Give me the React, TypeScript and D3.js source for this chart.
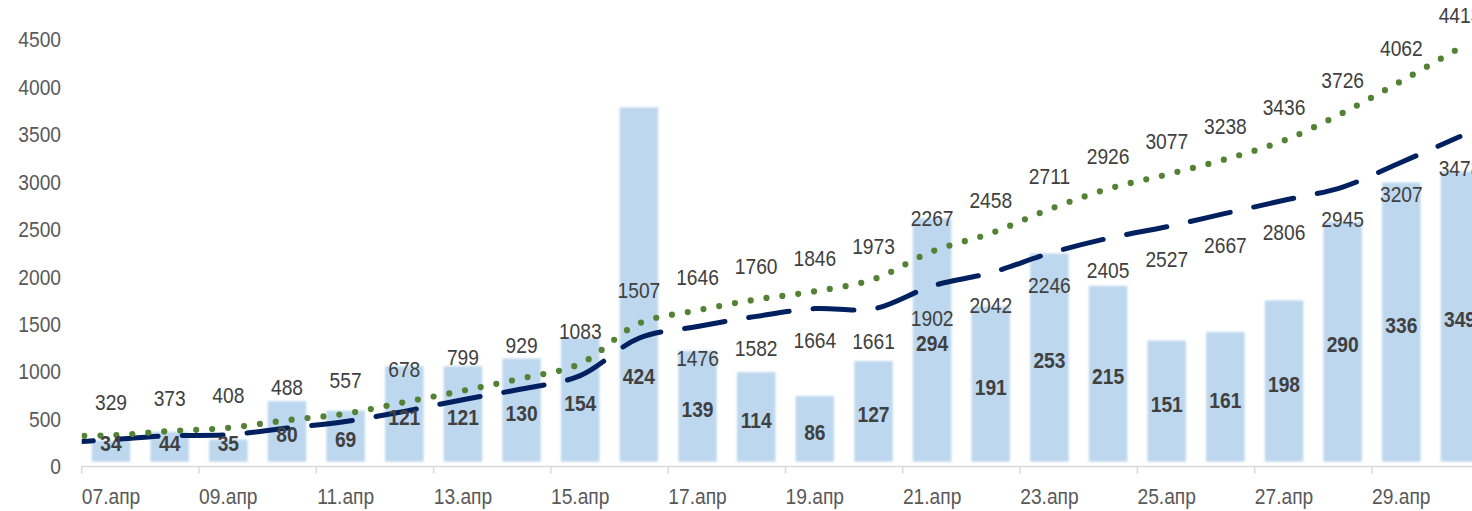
import React from "react";
import * as d3 from "d3";

// Daily series, 07.апр – 30.апр
const dates = [
  "07.апр", "08.апр", "09.апр", "10.апр", "11.апр", "12.апр", "13.апр", "14.апр",
  "15.апр", "16.апр", "17.апр", "18.апр", "19.апр", "20.апр", "21.апр", "22.апр",
  "23.апр", "24.апр", "25.апр", "26.апр", "27.апр", "28.апр", "29.апр", "30.апр",
];
const newCases = [
  34, 44, 35, 80, 69, 121, 121, 130, 154, 424, 139, 114, 86, 127, 294, 191,
  253, 215, 151, 161, 198, 290, 336, 349,
];
const totalCases = [
  329, 373, 408, 488, 557, 678, 799, 929, 1083, 1507, 1646, 1760, 1846, 1973,
  2267, 2458, 2711, 2926, 3077, 3238, 3436, 3726, 4062, 4413,
];
const activeCases = [
  282, 324, 335, 405, 475, 581, 704, 817, 958, 1352, 1476, 1582, 1664, 1661,
  1902, 2042, 2246, 2405, 2527, 2667, 2806, 2945, 3207, 3478,
];
// values of the day before the first shown date (line runs in from the left edge)
const totalPrevDay = 322;
const activePrevDay = 246;
const activeLabelsFrom = "17.апр";

const yTicks = [0, 500, 1000, 1500, 2000, 2500, 3000, 3500, 4000, 4500];

const W = 1472;
const H = 511;
const FONT = "'Liberation Sans', Arial, sans-serif";
const STRETCH = 1.16;

type LabelProps = {
  x: number;
  y: number;
  text: string | number;
  bold?: boolean;
  fill?: string;
  anchor?: "start" | "middle" | "end";
};

function Label({ x, y, text, bold, fill = "#404040", anchor = "middle" }: LabelProps) {
  return (
    <text
      transform={`translate(${x},${y}) scale(1,${STRETCH})`}
      textAnchor={anchor}
      dy="0.35em"
      fontFamily={FONT}
      fontSize={19.2}
      fontWeight={bold ? 700 : 400}
      fill={fill}
    >
      {text}
    </text>
  );
}

export default function App() {
  const left = 81.7;
  const step = 58.65;
  const x = d3
    .scaleBand<string>()
    .domain(dates)
    .range([left, left + step * dates.length])
    .padding(0);
  const bw = x.bandwidth();
  const cx = (i: number) => (x(dates[i]) as number) + bw / 2;

  const y = d3.scaleLinear().domain([0, 4500]).range([466.5, 39.5]);
  const y2 = d3.scaleLinear().domain([0, 500]).range([466.5, 39.5]);

  const line = d3
    .line<[number, number]>()
    .x((d) => d[0])
    .y((d) => d[1])
    .curve(d3.curveCatmullRom.alpha(0.5));

  const totalPts: [number, number][] = [
    [cx(0) - bw, y(totalPrevDay)],
    ...totalCases.map((v, i) => [cx(i), y(v)] as [number, number]),
  ];
  const activePts: [number, number][] = [
    [cx(0) - bw, y(activePrevDay)],
    ...activeCases.map((v, i) => [cx(i), y(v)] as [number, number]),
  ];

  const barW = 38.5;
  const base = y2(0);
  const peak = newCases.indexOf(d3.max(newCases) as number);
  const activeFrom = dates.indexOf(activeLabelsFrom);

  const barLabelY = (i: number) => {
    const v = newCases[i];
    if (i === peak) return y(activeCases[i]) + 38; // keep the tallest bar's label under the line
    return Math.min((y2(v) + base) / 2 + 2, base - 23);
  };

  return (
    <>
      <style>{`body{margin:0}`}</style>
      <svg width={W} height={H} style={{ display: "block" }}>
        <defs>
          <filter id="soft" x="-10%" y="-10%" width="120%" height="120%">
            <feGaussianBlur stdDeviation="0.9" />
          </filter>
          <clipPath id="plot">
            <rect x={left} y={0} width={W - left + 40} height={H} />
          </clipPath>
        </defs>

        {/* y axis labels */}
        {yTicks.map((t) => (
          <Label key={t} x={61} y={y(t)} text={t} anchor="end" fill="#595959" />
        ))}

        {/* bars */}
        <g filter="url(#soft)">
          {newCases.map((v, i) => (
            <rect
              key={dates[i]}
              x={cx(i) - barW / 2}
              y={y2(v) + 3}
              width={barW}
              height={Math.max(0, base - 4.8 - (y2(v) + 3))}
              fill="#BDD7EE"
            />
          ))}
        </g>

        {/* x axis */}
        <line x1={left} x2={W} y1={base} y2={base} stroke="#D9D9D9" strokeWidth={1.5} />
        {dates.map((d, i) =>
          i % 2 === 0 ? (
            <line
              key={"t" + d}
              x1={x(d) as number}
              x2={x(d) as number}
              y1={base}
              y2={base + 7}
              stroke="#D9D9D9"
              strokeWidth={1.5}
            />
          ) : null
        )}
        {dates.map((d, i) =>
          i % 2 === 0 ? (
            <Label key={"l" + d} x={cx(i)} y={496.5} text={d} fill="#595959" />
          ) : null
        )}

        {/* lines */}
        <g clipPath="url(#plot)">
          <path
            d={line(activePts) || ""}
            fill="none"
            stroke="#002060"
            strokeWidth={5}
            strokeLinecap="round"
            strokeDasharray="41 24"
          />
          <path
            d={line(totalPts) || ""}
            fill="none"
            stroke="#548235"
            strokeWidth={6.2}
            strokeLinecap="round"
            strokeDasharray="0 16"
          />
        </g>

        {/* line labels */}
        {totalCases.map((v, i) => (
          <Label key={"tl" + i} x={cx(i)} y={y(v) - 33} text={v} />
        ))}
        {activeCases.map((v, i) =>
          i >= activeFrom ? <Label key={"al" + i} x={cx(i)} y={y(v) + 32} text={v} /> : null
        )}

        {/* bar labels */}
        {newCases.map((v, i) => (
          <Label key={"bl" + i} x={cx(i)} y={barLabelY(i)} text={v} bold />
        ))}
      </svg>
    </>
  );
}
